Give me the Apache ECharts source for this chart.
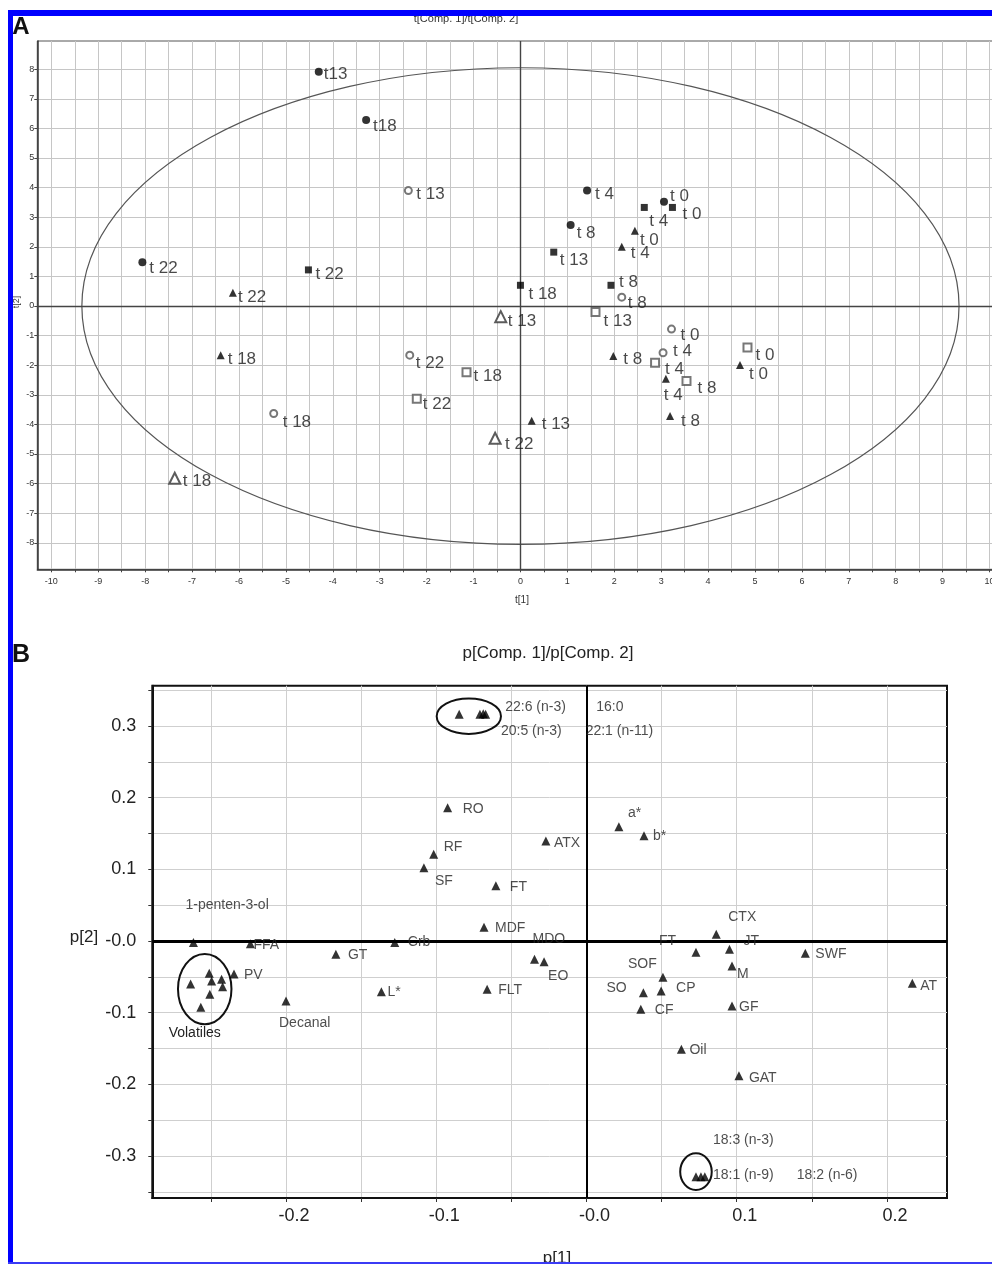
<!DOCTYPE html>
<html>
<head>
<meta charset="utf-8">
<script src="https://cdn.jsdelivr.net/npm/echarts@6/dist/echarts.min.js"></script>
<style>
  html, body { margin: 0; padding: 0; background: #fff; }
  #chart { width: 992px; height: 1264px; }
</style>
</head>
<body>
<div id="chart"></div>
<script>
// ===================== Panel A : score plot t[1] / t[2] =====================
const T_X_LABELS = [-10, -9, -8, -7, -6, -5, -4, -3, -2, -1, 0, 1, 2, 3, 4, 5, 6, 7, 8, 9, 10];
const T_X_TICKS = [-10, -9.5, -9, -8.5, -8, -7.5, -7, -6.5, -6, -5.5, -5, -4.5, -4, -3.5, -3, -2.5, -2, -1.5, -1, -0.5,
  0, 0.5, 1, 1.5, 2, 2.5, 3, 3.5, 4, 4.5, 5, 5.5, 6, 6.5, 7, 7.5, 8, 8.5, 9, 9.5, 10];
const T_Y_LABELS = [-8, -7, -6, -5, -4, -3, -2, -1, 0, 1, 2, 3, 4, 5, 6, 7, 8];
const T_Y_HALF = [-8.5, -7.5, -6.5, -5.5, -4.5, -3.5, -2.5, -1.5, -0.5, 0.5, 1.5, 2.5, 3.5, 4.5, 5.5, 6.5, 7.5, 8.5];
const T_X_RANGE = [-10.3, 10.3];
const T_Y_RANGE = [-8.895, 8.953];

// Hotelling T2 ellipse: centre x, centre y, semi-axis x, semi-axis y
const T2_ELLIPSE = [[0, 0, 9.35, 8.05]];

const filledCircleNames = ['t13', 't18', 't 22', 't 4', 't 8', 't 0'];
const filledCircleScores = [[-4.30, 7.91], [-3.29, 6.28], [-8.06, 1.48], [1.42, 3.90], [1.07, 2.74], [3.06, 3.52]];

const filledSquareNames = ['t 22', 't 13', 't 18', 't 4', 't 0', 't 8'];
const filledSquareScores = [[-4.52, 1.22], [0.71, 1.82], [0.00, 0.70], [2.64, 3.33], [3.24, 3.33], [1.93, 0.70]];

const filledTriangleNames = ['t 22', 't 18', 't 13', 't 0', 't 4', 't 8', 't 4', 't 8', 't 0'];
const filledTriangleScores = [[-6.13, 0.45], [-6.39, -1.66], [0.24, -3.88], [2.44, 2.54], [2.16, 2.00],
  [1.98, -1.69], [3.10, -2.46], [3.19, -3.72], [4.68, -1.99]];

const openCircleNames = ['t 13', 't 22', 't 18', 't 8', 't 0', 't 4'];
const openCircleScores = [[-2.39, 3.90], [-2.36, -1.66], [-5.26, -3.63], [2.16, 0.30], [3.22, -0.78], [3.04, -1.58]];

const openSquareNames = ['t 18', 't 22', 't 13', 't 4', 't 8', 't 0'];
const openSquareScores = [[-1.15, -2.24], [-2.21, -3.13], [1.60, -0.20], [2.87, -1.92], [3.54, -2.53], [4.84, -1.40]];

const openTriangleNames = ['t 13', 't 22', 't 18'];
const openTriangleScores = [[-0.42, -0.36], [-0.54, -4.47], [-7.37, -5.82]];

// ===================== Panel B : loading plot p[1] / p[2] =====================
const P_X_TICKS = [-0.25, -0.2, -0.15, -0.1, -0.05, 0, 0.05, 0.1, 0.15, 0.2];
const P_X_LABELS = [-0.2, -0.1, 0, 0.1, 0.2];
const P_Y_TICKS = [-0.35, -0.3, -0.25, -0.2, -0.15, -0.1, -0.05, 0, 0.05, 0.1, 0.15, 0.2, 0.25, 0.3, 0.35];
const P_Y_LABELS = [-0.3, -0.2, -0.1, 0, 0.1, 0.2, 0.3];
const P_X_RANGE = [-0.289, 0.240];
const P_Y_RANGE = [-0.3586, 0.3562];

const loadingNames = ['1-penten-3-ol', 'FFA', 'GT', 'Crb', 'PV', 'L*', 'Decanal', 'FLT', 'MDO', 'EO',
  'MDF', 'FT', 'SF', 'RF', 'RO', 'ATX', 'a*', 'b*',
  '22:6 (n-3)', '20:5 (n-3)', '16:0', '22:1 (n-11)',
  'CTX', 'FT', 'JT', 'M', 'SWF', 'AT', 'SOF', 'SO', 'CP', 'CF', 'GF', 'Oil', 'GAT',
  '18:3 (n-3)', '18:1 (n-9)', '18:2 (n-6)'];
const loadingValues = [[-0.2616, -0.002], [-0.2237, -0.004], [-0.1668, -0.0186], [-0.1276, -0.002],
  [-0.2346, -0.046], [-0.1365, -0.0707], [-0.200, -0.0837], [-0.0661, -0.0674], [-0.0346, -0.0256], [-0.0282, -0.0289],
  [-0.0682, 0.0191], [-0.0603, 0.0772], [-0.1082, 0.1023], [-0.1017, 0.121], [-0.0924, 0.186], [-0.027, 0.1395],
  [0.0216, 0.1595], [0.0383, 0.147],
  [-0.0847, 0.3163], [-0.0709, 0.3163], [-0.0687, 0.3172], [-0.0671, 0.3163],
  [0.0864, 0.0093], [0.0729, -0.0158], [0.0952, -0.0116], [0.0969, -0.0349], [0.1457, -0.0172], [0.2169, -0.059],
  [0.0509, -0.0507], [0.0379, -0.0721], [0.0497, -0.0698], [0.0362, -0.0953], [0.0969, -0.0907], [0.0632, -0.1511],
  [0.1015, -0.1879],
  [0.0729, -0.3288], [0.0762, -0.3288], [0.0788, -0.3288]];

// volatile compounds (grouped, unlabelled)
const volatileValues = [[-0.2635, -0.060], [-0.2511, -0.045], [-0.2495, -0.0558], [-0.2429, -0.0534],
  [-0.2422, -0.0638], [-0.2507, -0.0744], [-0.2567, -0.0925]];

// group outlines: centre x, centre y, semi-axis x, semi-axis y
const groupEllipses = [[-0.0783, 0.3137, 0.0214, 0.0248], [-0.2541, -0.067, 0.0178, 0.049], [0.0729, -0.3219, 0.0105, 0.0256]];
const groupEllipseNames = ['', 'Volatiles', ''];

// ---------------- label placement (pixel nudges from each marker) ----------------
const NUDGE = {
  filledCircle: [[5, 2], [7, 6], [7, 6], [8, 4], [6, 8], [6, -6]],
  filledSquare: [[7, 4], [6, 8], [8, 9], [5, 14], [10, 7], [8, -3]],
  filledTriangle: [[5, 5], [7, 4], [10, 3], [5, 9], [9, 7], [10, 3], [-2, 16], [11, 5], [9, 9]],
  openCircle: [[8, 4], [6, 8], [9, 9], [6, 6], [9, 6], [10, -1]],
  openSquare: [[7, 4], [6, 6], [8, 9], [10, 6], [11, 7], [8, 8]],
  openTriangle: [[7, 5], [10, 6], [8, 3]],
  loading: [[-8, -37], [3, 1], [12, 1], [13, 0], [10, 1], [6, 0], [-7, 22], [11, 1], [-2, -20], [4, 14],
    [11, 1], [14, 1], [11, 13], [10, -7], [15, 1], [8, 2], [9, -14], [9, 1],
    [46, -7], [21, 17], [113, -7], [100, 17],
    [12, -17], [-37, -11], [14, -8], [5, 8], [10, 1], [8, 3], [-35, -13], [-37, -5], [15, -3], [14, 1], [7, 1], [8, 1],
    [10, 2],
    [17, -37], [12, -2], [92, -2]]
};

const FONT = "'Liberation Sans', Arial, Helvetica, sans-serif";

function pointsWithLabels(names, values, nudges) {
  return values.map((v, i) => ({
    name: names[i],
    value: v,
    label: { offset: nudges[i] }
  }));
}

function scoreSeries(names, values, nudges, symbol, size, style) {
  return {
    type: 'scatter', xAxisIndex: 0, yAxisIndex: 0,
    symbol: symbol, symbolSize: size,
    itemStyle: style,
    data: pointsWithLabels(names, values, nudges),
    label: {
      show: true, position: 'inside', align: 'left', verticalAlign: 'middle',
      formatter: '{b}', color: '#1a1a1a', fontSize: 17, fontFamily: FONT,
      textBorderWidth: 0
    },
    emphasis: { disabled: true },
    z: 5
  };
}

function ellipseRenderer(stroke, width, labels) {
  return function (params, api) {
    const cx = api.value(0), cy = api.value(1), rx = api.value(2), ry = api.value(3);
    const p1 = api.coord([cx - rx, cy + ry]);
    const p2 = api.coord([cx + rx, cy - ry]);
    const c = api.coord([cx, cy]);
    const rxp = Math.abs(p2[0] - p1[0]) / 2;
    const ryp = Math.abs(p2[1] - p1[1]) / 2;
    const children = [{
      type: 'ellipse',
      shape: { cx: c[0], cy: c[1], rx: rxp, ry: ryp },
      style: { fill: null, stroke: stroke, lineWidth: width }
    }];
    const txt = labels ? labels[params.dataIndex] : '';
    if (txt) {
      children.push({
        type: 'text', x: c[0] - 10, y: c[1] + ryp + 9,
        style: { text: txt, fill: '#222', fontSize: 14, fontFamily: FONT, align: 'center', verticalAlign: 'middle' }
      });
    }
    return { type: 'group', children: children };
  };
}

const chart = echarts.init(document.getElementById('chart'), null, { renderer: 'canvas' });

const tickLabel = (v) => (v === 0 ? '-0.0' : v.toFixed(1));

const option = {
  animation: false,
  backgroundColor: '#ffffff',
  textStyle: { fontFamily: FONT },
  grid: [
    { left: 37.3, top: 41, width: 966.3, height: 528.3, show: true, borderColor: '#555', borderWidth: 1,
      outerBoundsMode: 'none', containLabel: false },
    { left: 152.3, top: 685.7, width: 794.7, height: 512.3, show: true, borderColor: '#111', borderWidth: 2,
      outerBoundsMode: 'none', containLabel: false }
  ],
  xAxis: [
    {
      type: 'value', gridIndex: 0, min: T_X_RANGE[0], max: T_X_RANGE[1],
      axisLine: { show: true, onZero: false, lineStyle: { color: '#333', width: 1.5 } },
      axisTick: { show: true, customValues: T_X_TICKS, length: 3, lineStyle: { color: '#444' } },
      axisLabel: { customValues: T_X_LABELS, fontSize: 9, color: '#333', margin: 8 },
      splitLine: { show: true, lineStyle: { color: '#c6c6c6', width: 1 } }
    },
    {
      type: 'value', gridIndex: 1, min: P_X_RANGE[0], max: P_X_RANGE[1],
      axisLine: { show: true, onZero: false, lineStyle: { color: '#111', width: 2 } },
      axisTick: { show: true, customValues: P_X_TICKS, length: 4, lineStyle: { color: '#333' } },
      axisLabel: { customValues: P_X_LABELS, formatter: tickLabel, fontSize: 18, color: '#222', margin: 9,
        padding: [0, 0, 0, 16] },
      splitLine: { show: true, lineStyle: { color: '#cfcfcf', width: 1 } }
    }
  ],
  yAxis: [
    {
      type: 'value', gridIndex: 0, min: T_Y_RANGE[0], max: T_Y_RANGE[1],
      axisLine: { show: true, onZero: false, lineStyle: { color: '#333', width: 1.5 } },
      axisTick: { show: true, customValues: T_Y_LABELS, length: 3, lineStyle: { color: '#444' } },
      axisLabel: { customValues: T_Y_LABELS, fontSize: 9, color: '#333', margin: 3 },
      splitLine: { show: true, lineStyle: { color: '#c6c6c6', width: 1 } }
    },
    {
      type: 'value', gridIndex: 0, min: T_Y_RANGE[0], max: T_Y_RANGE[1],
      axisLine: { show: false, onZero: false },
      axisTick: { show: true, customValues: T_Y_HALF, length: 3, lineStyle: { color: '#444' } },
      axisLabel: { show: false },
      splitLine: { show: false }
    },
    {
      type: 'value', gridIndex: 1, min: P_Y_RANGE[0], max: P_Y_RANGE[1],
      axisLine: { show: true, onZero: false, lineStyle: { color: '#111', width: 2 } },
      axisTick: { show: true, customValues: P_Y_TICKS, length: 4, lineStyle: { color: '#333' } },
      axisLabel: { customValues: P_Y_LABELS, formatter: tickLabel, fontSize: 18, color: '#222', margin: 16,
        padding: [14, 0, 0, 0] },
      splitLine: { show: true, lineStyle: { color: '#cfcfcf', width: 1 } }
    }
  ],
  series: [
    // ---- Panel A ----
    {
      type: 'custom', xAxisIndex: 0, yAxisIndex: 0, data: T2_ELLIPSE, clip: false,
      renderItem: ellipseRenderer('#555', 1.2, null), silent: true, z: 3,
      markLine: {
        silent: true, symbol: 'none', label: { show: false },
        data: [
          { xAxis: 0, lineStyle: { color: '#444', width: 1.4, type: 'solid' } },
          { yAxis: 0, lineStyle: { color: '#444', width: 1.4, type: 'solid' } }
        ]
      }
    },
    scoreSeries(filledCircleNames, filledCircleScores, NUDGE.filledCircle, 'circle', 8, { color: '#000' }),
    scoreSeries(filledSquareNames, filledSquareScores, NUDGE.filledSquare, 'rect', 7, { color: '#000' }),
    scoreSeries(filledTriangleNames, filledTriangleScores, NUDGE.filledTriangle, 'triangle', 8, { color: '#000' }),
    scoreSeries(openCircleNames, openCircleScores, NUDGE.openCircle, 'emptyCircle', 7,
      { color: '#555', borderColor: '#555', borderWidth: 1 }),
    scoreSeries(openSquareNames, openSquareScores, NUDGE.openSquare, 'emptyRect', 8,
      { color: '#555', borderColor: '#555', borderWidth: 1 }),
    scoreSeries(openTriangleNames, openTriangleScores, NUDGE.openTriangle, 'emptyTriangle', 11,
      { color: '#333', borderColor: '#333', borderWidth: 1.3 }),

    // ---- Panel B ----
    {
      type: 'custom', xAxisIndex: 1, yAxisIndex: 2, data: groupEllipses, clip: false,
      renderItem: ellipseRenderer('#111', 2, groupEllipseNames), silent: true, z: 3,
      markLine: {
        silent: true, symbol: 'none', label: { show: false },
        data: [
          { xAxis: 0, lineStyle: { color: '#000', width: 2, type: 'solid' } },
          { yAxis: 0, lineStyle: { color: '#000', width: 3, type: 'solid' } }
        ]
      }
    },
    {
      type: 'scatter', xAxisIndex: 1, yAxisIndex: 2,
      symbol: 'triangle', symbolSize: 9, itemStyle: { color: '#000' },
      data: pointsWithLabels(loadingNames, loadingValues, NUDGE.loading),
      label: {
        show: true, position: 'inside', align: 'left', verticalAlign: 'middle',
        formatter: '{b}', color: '#222', fontSize: 14, fontFamily: FONT, textBorderWidth: 0
      },
      emphasis: { disabled: true }, z: 5
    },
    {
      type: 'scatter', xAxisIndex: 1, yAxisIndex: 2,
      symbol: 'triangle', symbolSize: 9, itemStyle: { color: '#000' },
      data: volatileValues, emphasis: { disabled: true }, z: 5
    }
  ],
  graphic: [
    // titles and axis names
    { type: 'text', x: 466, y: 18.5, z: 50,
      style: { text: 't[Comp. 1]/t[Comp. 2]', fill: '#333', fontSize: 11, fontFamily: FONT, align: 'center', verticalAlign: 'middle' } },
    { type: 'text', x: 522, y: 600, z: 50,
      style: { text: 't[1]', fill: '#333', fontSize: 10, fontFamily: FONT, align: 'center', verticalAlign: 'middle' } },
    { type: 'text', x: 17, y: 302, rotation: Math.PI / 2, z: 50,
      style: { text: 't[2]', fill: '#333', fontSize: 9, fontFamily: FONT, align: 'center', verticalAlign: 'middle' } },
    { type: 'text', x: 548, y: 653, z: 50,
      style: { text: 'p[Comp. 1]/p[Comp. 2]', fill: '#222', fontSize: 17, fontFamily: FONT, align: 'center', verticalAlign: 'middle' } },
    { type: 'text', x: 84, y: 937, z: 50,
      style: { text: 'p[2]', fill: '#222', fontSize: 17, fontFamily: FONT, align: 'center', verticalAlign: 'middle' } },
    { type: 'text', x: 557, y: 1258, z: 50,
      style: { text: 'p[1]', fill: '#222', fontSize: 17, fontFamily: FONT, align: 'center', verticalAlign: 'middle' } },
    // panel letters
    { type: 'text', x: 21, y: 27, z: 50,
      style: { text: 'A', fill: '#111', fontSize: 24, fontWeight: 'bold', fontFamily: FONT, align: 'center', verticalAlign: 'middle' } },
    { type: 'text', x: 21, y: 655, z: 50,
      style: { text: 'B', fill: '#111', fontSize: 25, fontWeight: 'bold', fontFamily: FONT, align: 'center', verticalAlign: 'middle' } },
    // blue frame
    { type: 'rect', z: 100, shape: { x: 8, y: 10, width: 984, height: 6 }, style: { fill: '#0000ff' } },
    { type: 'rect', z: 100, shape: { x: 8, y: 10, width: 5, height: 1254 }, style: { fill: '#0000ff' } },
    { type: 'rect', z: 100, shape: { x: 8, y: 1262, width: 984, height: 2 }, style: { fill: '#3b3bf5' } }
  ]
};

chart.setOption(option);
</script>
</body>
</html>
